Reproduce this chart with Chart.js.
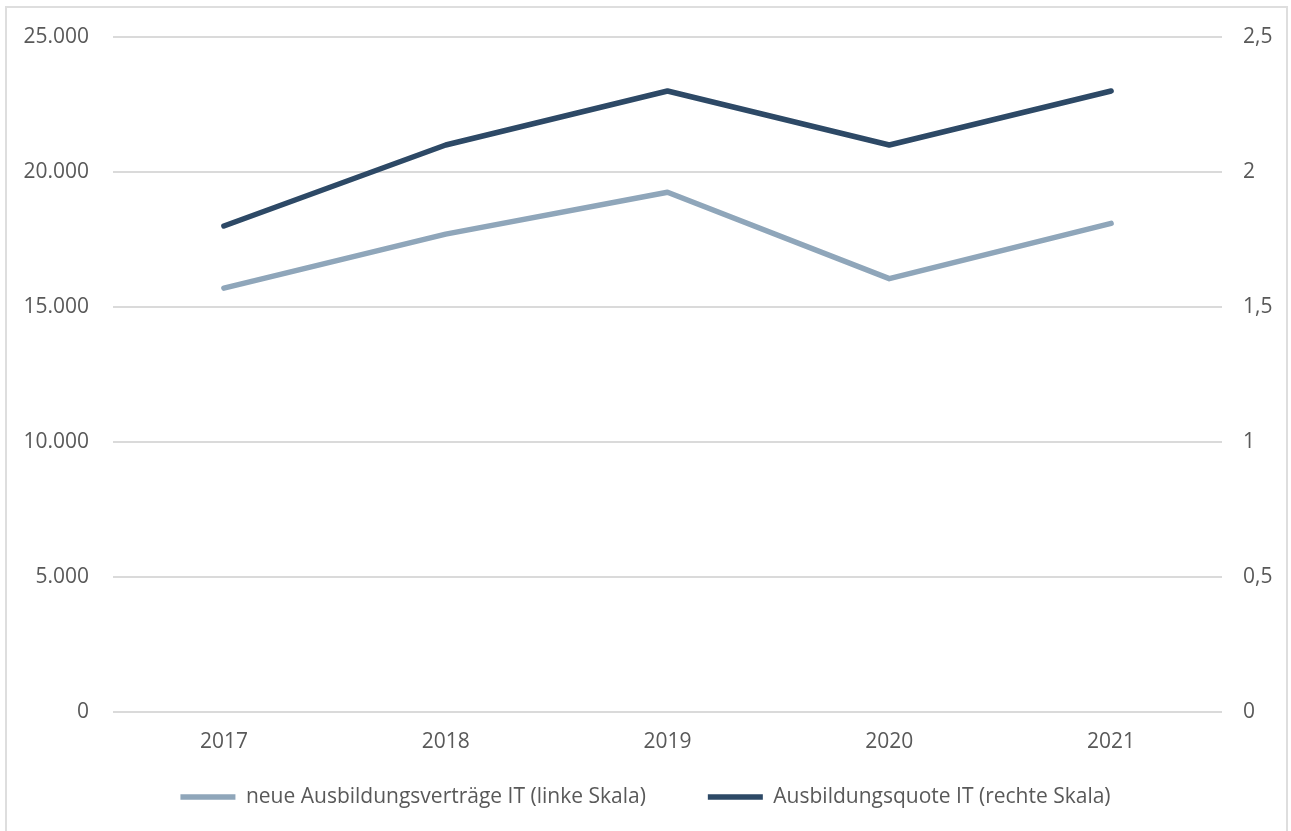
<!DOCTYPE html>
<html lang="de">
<head>
<meta charset="utf-8">
<title>Ausbildung IT</title>
<script src="https://cdn.jsdelivr.net/npm/chart.js@4/dist/chart.umd.min.js"></script>
<style>
  html, body { margin: 0; padding: 0; background: #fff; overflow: hidden; }
  #frame {
    position: absolute; left: 5px; top: 6px; width: 1283px; height: 840px;
    border: 2px solid #dedede; box-sizing: border-box;
  }
  #wrap { position: absolute; left: 0; top: 0; width: 1291px; height: 831px; }
</style>
</head>
<body>
<div id="frame"></div>
<div id="wrap"><canvas id="chart" width="1291" height="831"></canvas></div>
<script>
// Daten
const years = ['2017', '2018', '2019', '2020', '2021'];
const neueVertraege = [15700, 17700, 19250, 16050, 18100];
const quote = [1.8, 2.1, 2.3, 2.1, 2.3];

const leftTicks = [0, 5000, 10000, 15000, 20000, 25000];
const rightTicks = [0, 0.5, 1, 1.5, 2, 2.5];

const LIGHT = '#8fa6ba';
const DARK = '#2d4966';
const TEXT = '#595959';
const GRID = '#dadada';

const fmtLeft = new Intl.NumberFormat('de-DE');
const fmtRight = new Intl.NumberFormat('de-DE', { maximumFractionDigits: 1 });

const tickFont = { family: 'Open Sans', size: 21 };
const LEGEND_PAD = 62;
const LEGEND_FONT = 21;
const LEGEND_CENTER_Y = 797;

// Legende nach dem Layout an die gewünschte Höhe schieben
// (die Beschriftung der x-Achse braucht ihren eigenen Platz, sonst wird sie abgeschnitten)
const legendLift = {
  id: 'legendLift',
  afterLayout(chart) {
    const lg = chart.legend;
    if (!lg) return;
    lg.top = LEGEND_CENTER_Y - LEGEND_PAD - LEGEND_FONT / 2;
    lg.bottom = chart.height;
    lg.height = lg.bottom - lg.top;
  },
};

new Chart(document.getElementById('chart'), {
  type: 'line',
  data: {
    labels: years,
    datasets: [
      {
        label: 'neue Ausbildungsverträge IT (linke Skala)',
        data: neueVertraege,
        yAxisID: 'yLeft',
        borderColor: LIGHT,
        backgroundColor: LIGHT,
        borderWidth: 5.5,
        borderCapStyle: 'round',
        borderJoinStyle: 'round',
        pointRadius: 0,
        tension: 0,
      },
      {
        label: 'Ausbildungsquote IT (rechte Skala)',
        data: quote,
        yAxisID: 'yRight',
        borderColor: DARK,
        backgroundColor: DARK,
        borderWidth: 5.5,
        borderCapStyle: 'round',
        borderJoinStyle: 'round',
        pointRadius: 0,
        tension: 0,
      },
    ],
  },
  options: {
    responsive: false,
    animation: false,
    layout: { padding: { top: 37, left: 0, right: 0, bottom: 13 } },
    plugins: {
      tooltip: { enabled: false },
      legend: {
        position: 'bottom',
        maxHeight: 60,
        labels: {
          usePointStyle: true,
          pointStyle: 'line',
          pointStyleWidth: 55,
          boxHeight: LEGEND_FONT,
          padding: LEGEND_PAD,
          color: TEXT,
          font: { family: 'Open Sans', size: LEGEND_FONT },
        },
      },
    },
    scales: {
      x: {
        offset: true,
        grid: { display: false },
        border: { display: false },
        ticks: { color: TEXT, font: tickFont, padding: 9 },
        afterFit(scale) { scale.height = 46; },
      },
      yLeft: {
        position: 'left',
        min: 0,
        max: 25000,
        afterBuildTicks(scale) { scale.ticks = leftTicks.map((v) => ({ value: v })); },
        grid: { color: GRID, lineWidth: 2, drawTicks: false },
        border: { display: false },
        ticks: {
          color: TEXT,
          font: tickFont,
          padding: 24,
          callback: (v) => fmtLeft.format(v),
        },
        afterFit(scale) { scale.width = 113; },
      },
      yRight: {
        position: 'right',
        min: 0,
        max: 2.5,
        afterBuildTicks(scale) { scale.ticks = rightTicks.map((v) => ({ value: v })); },
        grid: { display: false, drawTicks: false },
        border: { display: false },
        ticks: {
          color: TEXT,
          font: tickFont,
          padding: 21,
          callback: (v) => fmtRight.format(v),
        },
        afterFit(scale) { scale.width = 1291 - 1222; },
      },
    },
  },
  plugins: [legendLift],
});
</script>
</body>
</html>
